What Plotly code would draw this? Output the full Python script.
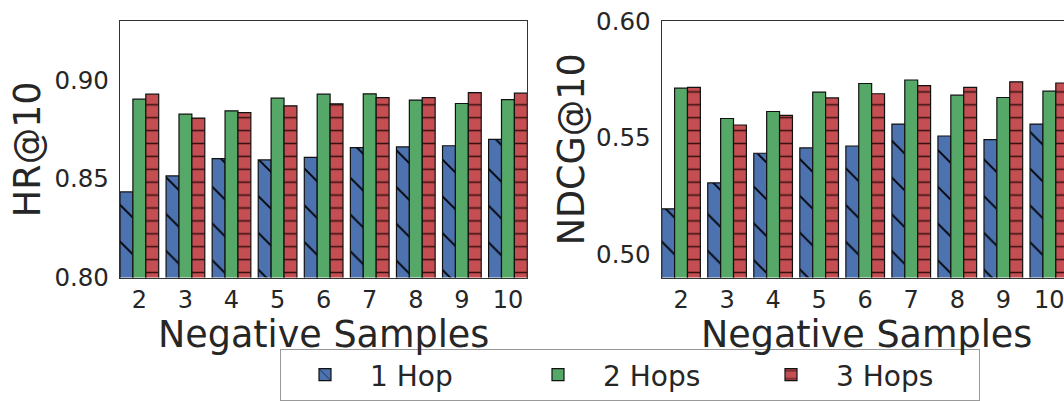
import plotly.graph_objects as go

neg_samples = [2, 3, 4, 5, 6, 7, 8, 9, 10]
series_names = ["1 Hop", "2 Hops", "3 Hops"]

hr_1hop = [0.8434, 0.8515, 0.8603, 0.8596, 0.8609, 0.8658, 0.8662, 0.8668, 0.8700]
hr_2hops = [0.8904, 0.8828, 0.8845, 0.8909, 0.8929, 0.8931, 0.8899, 0.8882, 0.8901]
hr_3hops = [0.8929, 0.8808, 0.8836, 0.8870, 0.8880, 0.8912, 0.8912, 0.8937, 0.8934]

ndcg_1hop = [0.5195, 0.5306, 0.5433, 0.5456, 0.5464, 0.5558, 0.5507, 0.5491, 0.5558]
ndcg_2hops = [0.5712, 0.5582, 0.5612, 0.5695, 0.5732, 0.5747, 0.5682, 0.5672, 0.5699]
ndcg_3hops = [0.5715, 0.5554, 0.5595, 0.5670, 0.5688, 0.5723, 0.5715, 0.5739, 0.5734]

hr_ticks = [0.80, 0.85, 0.90]
ndcg_ticks = [0.50, 0.55, 0.60]

x_title = "Negative Samples"
hr_title = "HR@10"
ndcg_title = "NDCG@10"

colors = ["#4C72B0", "#55A868", "#C44E52"]
patterns = [
    dict(shape="\\", size=26, solidity=0.07, fgcolor="#000000", bgcolor=colors[0], fgopacity=1),
    dict(shape="", fgcolor="#111111", bgcolor=colors[1]),
    dict(shape="-", size=12.9, solidity=0.12, fgcolor="#2a0a0a", bgcolor=colors[2], fgopacity=0.9),
]

FONT = "DejaVu Sans"
TXT = "#262626"
W, H = 1064, 401

fig = go.Figure()

hr_data = [hr_1hop, hr_2hops, hr_3hops]
ndcg_data = [ndcg_1hop, ndcg_2hops, ndcg_3hops]

for i, name in enumerate(series_names):
    fig.add_trace(go.Bar(
        x=neg_samples, y=hr_data[i], name=name, legendgroup=name,
        marker=dict(color=colors[i], line=dict(color="#111111", width=1.2), pattern=patterns[i]),
        xaxis="x", yaxis="y", showlegend=True,
    ))
for i, name in enumerate(series_names):
    fig.add_trace(go.Bar(
        x=neg_samples, y=ndcg_data[i], name=name, legendgroup=name,
        marker=dict(color=colors[i], line=dict(color="#111111", width=1.2), pattern=patterns[i]),
        xaxis="x2", yaxis="y2", showlegend=False,
    ))

y_dom = [(H - 278.3) / H, (H - 21) / H]
x1_dom = [120 / W, 527.3 / W]
x2_dom = [661.7 / W, 1.0]
axis_common = dict(
    showgrid=False, zeroline=False, showline=True, linecolor="#333333", linewidth=1.3,
    ticks="", automargin=False, ticklabeloverflow="allow",
)
xtick_font = dict(family=FONT, size=24, color=TXT)
ytick_font = dict(family=FONT, size=24.5, color=TXT)
title_font = dict(family=FONT, size=36.5, color=TXT)

fig.update_layout(
    width=W, height=H,
    margin=dict(l=0, r=0, t=0, b=0),
    paper_bgcolor="white", plot_bgcolor="white",
    barmode="group", bargap=0.16, bargroupgap=0,
    font=dict(family=FONT, color=TXT),
    xaxis=dict(**axis_common, domain=x1_dom, range=[1.58, 10.42],
               tickvals=neg_samples, mirror=True, ticklabelstandoff=0, tickfont=xtick_font),
    yaxis=dict(**axis_common, domain=y_dom, range=[0.80, 0.93], anchor="x",
               tickvals=hr_ticks, tickformat=".2f", mirror=True, ticklabelstandoff=5, tickfont=ytick_font,
               title=dict(text=hr_title, font=title_font, standoff=2)),
    xaxis2=dict(**axis_common, domain=x2_dom, range=[1.58, 10.318], anchor="y2",
                tickvals=neg_samples, mirror=True, ticklabelstandoff=0, tickfont=xtick_font),
    yaxis2=dict(**axis_common, domain=y_dom, range=[0.49, 0.60], anchor="x2",
                tickvals=ndcg_ticks, tickformat=".2f", mirror=False, ticklabelstandoff=5, tickfont=ytick_font,
                title=dict(text=ndcg_title, font=title_font, standoff=0)),
    legend=dict(
        orientation="h", x=280 / W, xanchor="left", y=(H - 376) / H, yanchor="middle",
        bordercolor="#999999", borderwidth=1, bgcolor="white",
        font=dict(family=FONT, size=28, color=TXT),
        itemwidth=80, entrywidth=138,
        itemclick=False, itemdoubleclick=False,
    ),
)

# x-axis titles, centred under each panel (the right panel runs past the window edge)
for cx in [(120 + 527.3) / 2 / W, (661.7 + 1071) / 2 / W]:
    fig.add_annotation(text=x_title, xref="paper", yref="paper", x=cx, y=(H - 335) / H,
                       xanchor="center", yanchor="middle", showarrow=False, font=title_font)

fig.write_html("out.html")
